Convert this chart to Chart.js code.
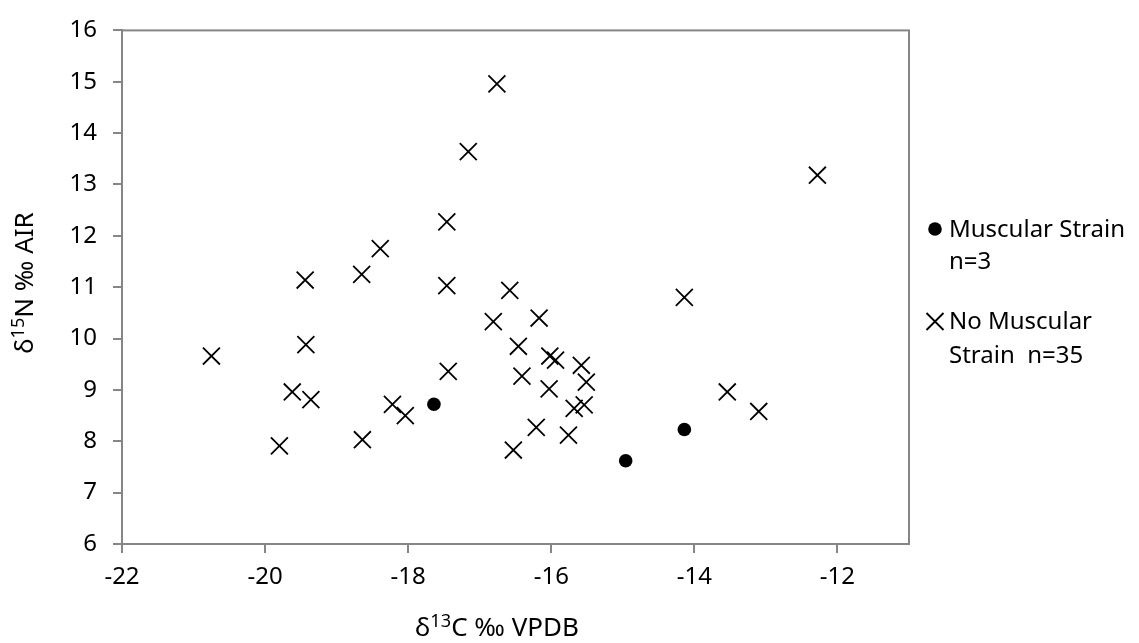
<!DOCTYPE html>
<html>
<head>
<meta charset="utf-8">
<script src="https://cdn.jsdelivr.net/npm/chart.js@4.4.1/dist/chart.umd.min.js"></script>
<style>
  html, body { margin: 0; padding: 0; background: #fff; }
</style>
</head>
<body>
<canvas id="isoChart" width="1139" height="643"></canvas>
<script>
// d13C (x) / d15N (y) values
var strainC = [-17.64, -14.96, -14.14];
var strainN = [8.72, 7.62, 8.23];

var noStrainC = [-19.44, -18.65, -18.39, -17.46, -17.46, -17.16, -16.76, -12.28, -16.58, -14.14,
                 -20.75, -19.43, -19.62, -19.36, -19.80, -18.64, -18.22, -18.04, -17.44, -16.81,
                 -16.17, -16.46, -16.02, -15.94, -15.58, -16.41, -15.51, -16.03, -15.54, -15.68,
                 -13.54, -13.10, -16.21, -15.76, -16.53];
var noStrainN = [11.14, 11.25, 11.75, 12.27, 11.03, 13.64, 14.96, 13.18, 10.94, 10.80,
                 9.66, 9.88, 8.96, 8.81, 7.91, 8.03, 8.72, 8.50, 9.36, 10.33,
                 10.40, 9.85, 9.66, 9.58, 9.48, 9.27, 9.15, 9.02, 8.71, 8.64,
                 8.96, 8.58, 8.27, 8.12, 7.83];

var xTicks = [-22, -20, -18, -16, -14, -12];
var yTicks = [6, 7, 8, 9, 10, 11, 12, 13, 14, 15, 16];

// text pieces, second value = superscript
var xTitleParts = [["δ", false], ["13", true], ["C ‰ VPDB", false]];
var yTitleParts = [["δ", false], ["15", true], ["N ‰ AIR", false]];
var legendStrain = ["Muscular Strain", "n=3"];
var legendNoStrain = ["No Muscular", "Strain  n=35"];

var FONT = '"Noto Sans", sans-serif';
var AXIS_GREY = "#868686";

function toPoints(xs, ys) {
  return xs.map(function (x, i) { return { x: x, y: ys[i] }; });
}

function drawRich(ctx, parts, x, y, size) {
  var total = 0;
  parts.forEach(function (p) {
    ctx.font = (p[1] ? size * 0.7 : size) + "px " + FONT;
    total += ctx.measureText(p[0]).width;
  });
  var cx = x - total / 2;
  parts.forEach(function (p) {
    ctx.font = (p[1] ? size * 0.7 : size) + "px " + FONT;
    ctx.fillText(p[0], cx, p[1] ? y - size * 0.34 : y);
    cx += ctx.measureText(p[0]).width;
  });
}

// frame, axis titles and the wrapped legend on the right
var extras = {
  id: "extras",
  beforeDatasetsDraw: function (chart) {
    var ctx = chart.ctx, a = chart.chartArea;
    ctx.save();
    ctx.strokeStyle = AXIS_GREY;
    ctx.lineWidth = 2;
    ctx.strokeRect(a.left, a.top, a.right - a.left, a.bottom - a.top);
    ctx.restore();
  },
  afterDraw: function (chart) {
    var ctx = chart.ctx;
    ctx.save();
    ctx.fillStyle = "#000";
    ctx.strokeStyle = "#000";
    ctx.textAlign = "left";
    ctx.textBaseline = "alphabetic";

    drawRich(ctx, xTitleParts, 497, 636, 26);

    ctx.save();
    ctx.translate(33, 283);
    ctx.rotate(-Math.PI / 2);
    drawRich(ctx, yTitleParts, 0, 0, 26);
    ctx.restore();

    // legend markers
    ctx.beginPath();
    ctx.arc(935, 229, 6.8, 0, Math.PI * 2);
    ctx.fill();
    ctx.lineWidth = 1.8;
    ctx.beginPath();
    ctx.moveTo(926.5, 313); ctx.lineTo(943.5, 330);
    ctx.moveTo(943.5, 313); ctx.lineTo(926.5, 330);
    ctx.stroke();

    ctx.font = "24px " + FONT;
    ctx.fillText(legendStrain[0], 949, 237);
    ctx.fillText(legendStrain[1], 949, 269);
    ctx.fillText(legendNoStrain[0], 949, 329);
    ctx.fillText(legendNoStrain[1], 949, 363);
    ctx.restore();
  }
};

new Chart(document.getElementById("isoChart"), {
  type: "scatter",
  data: {
    datasets: [
      {
        label: "Muscular Strain n=3",
        data: toPoints(strainC, strainN),
        pointStyle: "circle",
        pointRadius: 6.8,
        backgroundColor: "#000",
        borderColor: "#000",
        borderWidth: 0
      },
      {
        label: "No Muscular Strain n=35",
        data: toPoints(noStrainC, noStrainN),
        pointStyle: "crossRot",
        pointRadius: 12,
        borderColor: "#000",
        borderWidth: 1.8
      }
    ]
  },
  options: {
    responsive: false,
    animation: false,
    events: [],
    layout: { padding: { left: 0, right: 230, top: 21, bottom: 0 } },
    plugins: {
      legend: { display: false },
      tooltip: { enabled: false }
    },
    scales: {
      x: {
        type: "linear",
        min: -22,
        max: -11,
        afterBuildTicks: function (scale) {
          scale.ticks = xTicks.map(function (v) { return { value: v }; });
        },
        afterFit: function (scale) { scale.height = 99; },
        border: { color: AXIS_GREY, width: 2 },
        grid: { drawOnChartArea: false, drawTicks: true, tickLength: 9, color: AXIS_GREY, lineWidth: 2 },
        ticks: { color: "#000", font: { family: FONT, size: 24 }, padding: 10, maxRotation: 0 }
      },
      y: {
        type: "linear",
        min: 6,
        max: 16,
        afterBuildTicks: function (scale) {
          scale.ticks = yTicks.map(function (v) { return { value: v }; });
        },
        afterFit: function (scale) { scale.width = 122; },
        border: { color: AXIS_GREY, width: 2 },
        grid: { drawOnChartArea: false, drawTicks: true, tickLength: 9, color: AXIS_GREY, lineWidth: 2 },
        ticks: { color: "#000", font: { family: FONT, size: 24 }, padding: 16 }
      }
    }
  },
  plugins: [extras]
});
</script>
</body>
</html>
